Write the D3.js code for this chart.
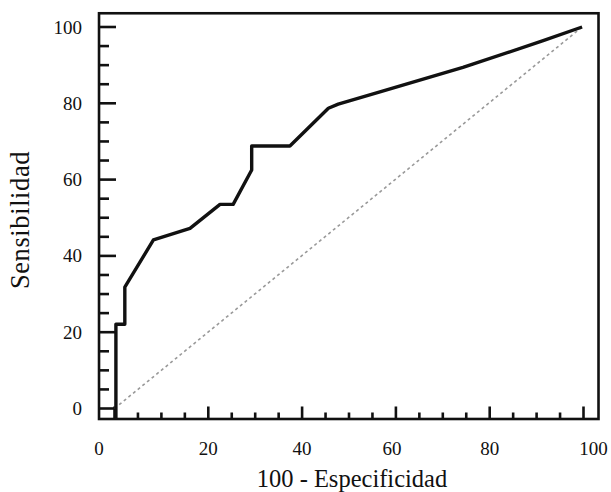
<!DOCTYPE html>
<html><head><meta charset="utf-8">
<script src="https://cdn.jsdelivr.net/npm/d3@7"></script>
<style>body{margin:0;background:#fff}svg{display:block}</style>
</head><body>
<svg id="c" width="611" height="492"></svg>
<script>
// ROC curve data (100 - Especificidad, Sensibilidad)
const fpr  = [0.3, 0.3, 2.2, 2.2, 8.3, 16.1, 22.5, 25.3, 29.25, 29.25, 37.4, 45.6, 47.7, 56.6, 74.3, 91.4, 99.7];
const sens = [-2.75, 22.1, 22.1, 31.8, 44.2, 47.2, 53.5, 53.5, 62.5, 68.8, 68.8, 78.7, 79.8, 83.0, 89.4, 96.4, 100];
const refLine = [[0, 0], [99.7, 100]];
const xTicks = [0, 20, 40, 60, 80, 100];
const yTicks = [0, 20, 40, 60, 80, 100];
const xTitle = "100 - Especificidad";
const yTitle = "Sensibilidad";

const svg = d3.select("#c");
const x = d3.scaleLinear().domain([0, 100]).range([114.5, 583.5]);
const y = d3.scaleLinear().domain([0, 100]).range([408.5, 27]);
const xMin = -3.3, xMax = 103.2, yMin = -2.75, yMax = 103.6;
const font = "'Liberation Serif', 'Times New Roman', serif";

// frame
svg.append("rect")
  .attr("x", x(xMin)).attr("y", y(yMax))
  .attr("width", x(xMax) - x(xMin)).attr("height", y(yMin) - y(yMax))
  .attr("fill", "none").attr("stroke", "#111").attr("stroke-width", 2.6);

// y ticks (inside, from left)
const yAll = d3.range(0, 101, 5);
svg.append("g").selectAll("line").data(yAll).join("line")
  .attr("x1", x(xMin)).attr("x2", d => x(xMin) + (d % 20 === 0 ? 17 : 10))
  .attr("y1", d => y(d)).attr("y2", d => y(d))
  .attr("stroke", "#111").attr("stroke-width", 2.6);

// x ticks (inside, from bottom)
const xAll = d3.range(0, 101, 5);
svg.append("g").selectAll("line").data(xAll).join("line")
  .attr("x1", d => x(d)).attr("x2", d => x(d))
  .attr("y1", y(yMin)).attr("y2", d => y(yMin) - (d % 20 === 0 ? 12.5 : 6.5))
  .attr("stroke", "#111").attr("stroke-width", 2.6);

// y tick labels
svg.append("g").selectAll("text").data(yTicks).join("text")
  .attr("x", 82).attr("y", d => y(d) + 6.5)
  .attr("text-anchor", "end")
  .attr("font-family", font).attr("font-size", 19).attr("fill", "#111")
  .text(d => d);

// x tick labels (end labels sit at the frame edges)
const xLabelPos = d => d === 0 ? x(xMin) : d === 100 ? x(xMax) - 5 : x(d) - (d === 60 ? 4 : 0);
svg.append("g").selectAll("text").data(xTicks).join("text")
  .attr("x", d => xLabelPos(d)).attr("y", 455)
  .attr("text-anchor", "middle")
  .attr("font-family", font).attr("font-size", 19).attr("fill", "#111")
  .text(d => d);

// reference diagonal
svg.append("path")
  .attr("d", d3.line().x(d => x(d[0])).y(d => y(d[1]))(refLine))
  .attr("fill", "none").attr("stroke", "#999").attr("stroke-width", 1.6)
  .attr("stroke-dasharray", "3,3");

// ROC curve
const pts = fpr.map((v, i) => [v, sens[i]]);
svg.append("path")
  .attr("d", d3.line().x(d => x(d[0])).y(d => y(d[1]))(pts))
  .attr("fill", "none").attr("stroke", "#111").attr("stroke-width", 3.4)
  .attr("stroke-linejoin", "round");

// axis titles
svg.append("text").attr("x", 352).attr("y", 487)
  .attr("text-anchor", "middle")
  .attr("font-family", font).attr("font-size", 24.5).attr("fill", "#111")
  .text(xTitle);
svg.append("text")
  .attr("transform", "translate(29,220) rotate(-90)")
  .attr("text-anchor", "middle")
  .attr("font-family", font).attr("font-size", 26.5).attr("letter-spacing", 0.6).attr("fill", "#111")
  .text(yTitle);
</script>
</body></html>
